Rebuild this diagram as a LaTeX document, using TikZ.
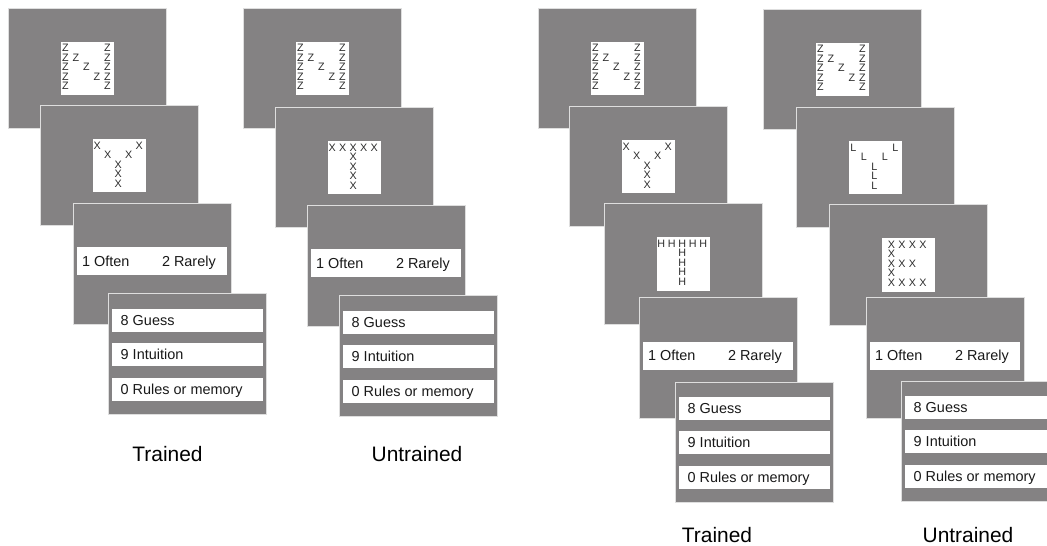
\documentclass[tikz,border=0pt]{standalone}
\usepackage{fontspec}
\setmainfont{Liberation Sans}

\definecolor{screen}{RGB}{132,130,131}
\definecolor{rim}{RGB}{222,222,222}
\definecolor{ink}{RGB}{45,45,45}

\tikzset{
  panel/.style={draw=rim, line width=1bp, fill=screen, minimum width=158bp,
    minimum height=120bp, anchor=north west, inner sep=0pt, outer sep=0pt},
  card/.style={fill=white, minimum width=53bp, minimum height=53bp, inner sep=0pt},
  bar/.style={fill=white, minimum width=150bp, minimum height=28bp, inner sep=0pt},
  slot/.style={fill=white, minimum width=151bp, minimum height=23bp, inner sep=0pt,
    anchor=north west},
  lett/.style={font=\fontsize{10.8}{10.8}\selectfont, text=ink, inner sep=0pt},
  opt/.style={font=\fontsize{14.5}{14.5}\selectfont, text=black!90, anchor=base west,
    inner sep=0pt},
  grouplabel/.style={font=\fontsize{21}{21}\selectfont, inner sep=0pt}
}

% letter display: name, top left corner, letter, cells col/row
\newcommand{\stimpanel}[4]{%
  \node[panel] (#1) at (#2) {};
  \node[card] (#1c) at (#1.center) {};
  \begin{scope}[shift={(#1c.north west)}]
    \foreach \c/\r in #4
      \node[lett] at ({5+10.5*(\c-1)},{6+9.5*(\r-1)}) {#3};
  \end{scope}
}
% often / rarely screen
\newcommand{\ratepanel}[2]{%
  \node[panel] (#1) at (#2) {};
  \node[bar, yshift=2.5bp] (#1b) at (#1.center) {};
  \node[opt] at ([xshift=5bp, yshift=-5.2bp]#1b.west) {1 Often};
  \node[opt] at ([xshift=85bp, yshift=-5.2bp]#1b.west) {2 Rarely};
}
% guess / intuition / rules screen
\newcommand{\sourcepanel}[2]{%
  \node[panel] (#1) at (#2) {};
  \begin{scope}[shift={(#1.north west)}]
    \foreach \t [count=\i] in {8 Guess, 9 Intuition, 0 Rules or memory} {
      \node[slot] (#1s\i) at (3.5, {14.5+34.5*(\i-1)}) {};
      \node[opt] at ([xshift=9bp, yshift=-5.2bp]#1s\i.west) {\t};
    }
  \end{scope}
}

\def\zgrid{1/1,1/2,1/3,1/4,1/5,2/2,3/3,4/4,5/1,5/2,5/3,5/4,5/5}
\def\ygrid{1/1,2/2,4/2,5/1,3/3,3/4,3/5}
\def\tgrid{1/1,2/1,3/1,4/1,5/1,3/2,3/3,3/4,3/5}
\def\egrid{1.5/1,2.5/1,3.5/1,4.5/1,1.5/2,1.5/3,2.5/3,3.5/3,1.5/4,1.5/5,2.5/5,3.5/5,4.5/5}

\begin{document}
\begin{tikzpicture}[x=1bp, y=-1bp]
  \useasboundingbox (0,0) rectangle (1047,546);
  \clip (0,0) rectangle (1047,546);

  %% trained, first block
  \stimpanel{trA1}{8,9}{Z}{\zgrid}
  \stimpanel{trA2}{40,106}{X}{\ygrid}
  \ratepanel{trA3}{73,204}
  \sourcepanel{trA4}{108,294}
  \node[grouplabel] (labA) at (167.5,454) {Trained};

  %% untrained, first block
  \stimpanel{unB1}{243,9}{Z}{\zgrid}
  \stimpanel{unB2}{275,108}{X}{\tgrid}
  \ratepanel{unB3}{307,206}
  \sourcepanel{unB4}{339,296}
  \node[grouplabel] (labB) at (417,454) {Untrained};

  %% trained, second block
  \stimpanel{trC1}{538,9}{Z}{\zgrid}
  \stimpanel{trC2}{569,107}{X}{\ygrid}
  \stimpanel{trC3}{604,204}{H}{\tgrid}
  \ratepanel{trC4}{639,298}
  \sourcepanel{trC5}{675,382}
  \node[grouplabel] (labC) at (717,535.5) {Trained};

  %% untrained, second block
  \stimpanel{unD1}{763,10}{Z}{\zgrid}
  \stimpanel{unD2}{796,108}{L}{\ygrid}
  \stimpanel{unD3}{829,205}{X}{\egrid}
  \ratepanel{unD4}{866,298}
  \sourcepanel{unD5}{901,381}
  \node[grouplabel] (labD) at (968,535.5) {Untrained};
\end{tikzpicture}
\end{document}
